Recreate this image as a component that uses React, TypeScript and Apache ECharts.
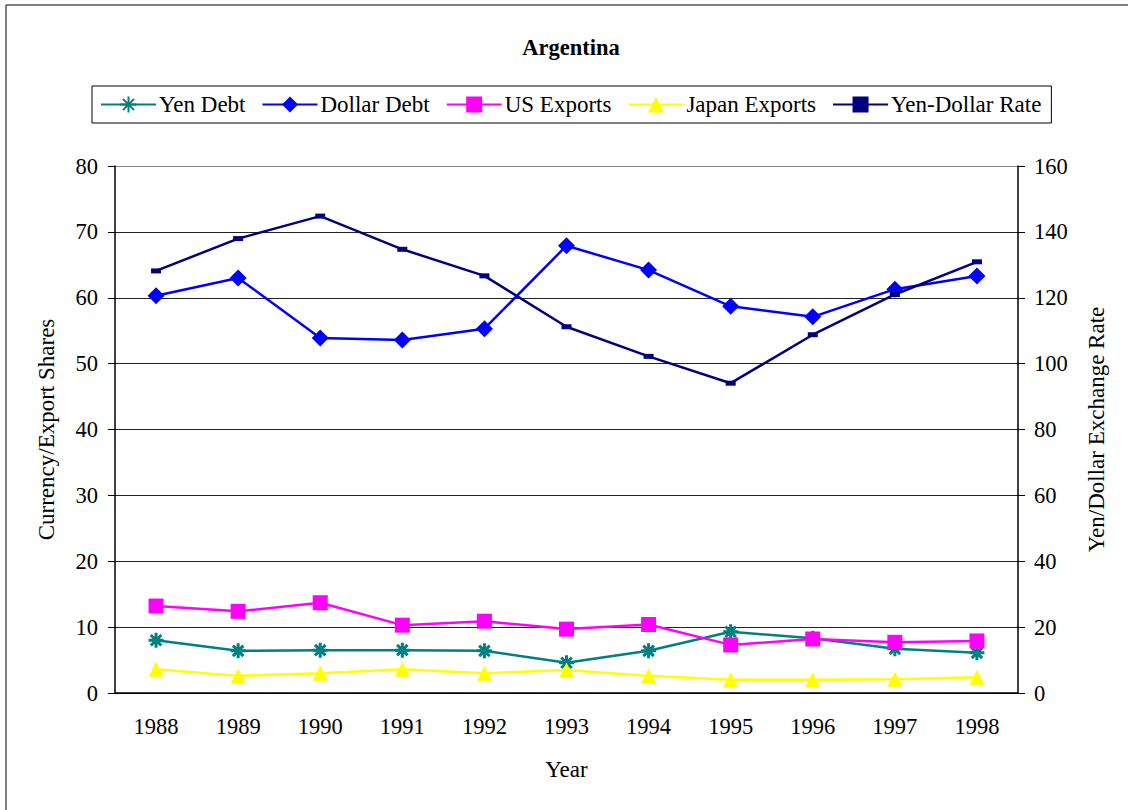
import React, { useEffect, useRef } from "react";
import * as echarts from "echarts";

const years = ["1988", "1989", "1990", "1991", "1992", "1993", "1994", "1995", "1996", "1997", "1998"];
const yenDebt = [8.0, 6.4, 6.5, 6.5, 6.4, 4.6, 6.4, 9.3, 8.3, 6.7, 6.1];
const dollarDebt = [60.3, 63.0, 53.9, 53.6, 55.3, 67.9, 64.2, 58.7, 57.1, 61.3, 63.3];
const usExports = [13.2, 12.4, 13.7, 10.3, 10.9, 9.7, 10.4, 7.3, 8.2, 7.7, 7.9];
const japanExports = [3.6, 2.6, 3.0, 3.6, 3.0, 3.5, 2.6, 2.0, 2.0, 2.1, 2.4];
const yenDollarRate = [128.15, 137.96, 144.79, 134.71, 126.65, 111.2, 102.21, 94.06, 108.78, 120.99, 130.91];

const FONT = "'Liberation Serif', 'Times New Roman', serif";
const asterisk = "path://M0,5L10,5M5,0L5,10M1.5,1.5L8.5,8.5M8.5,1.5L1.5,8.5";

export default function App() {
  const ref = useRef<HTMLDivElement>(null);
  useEffect(() => {
    document.body.style.margin = "0";
    const chart = echarts.init(ref.current!, null, { renderer: "svg" });
    const textStyle = { fontFamily: FONT, fontSize: 22.5, color: "#000" };
    const nameStyle = { fontFamily: FONT, fontSize: 23, color: "#000" };
    chart.setOption({
      animation: false,
      backgroundColor: "#fff",
      textStyle: { fontFamily: FONT },
      title: {
        text: "Argentina",
        left: 566,
        textAlign: "center",
        top: 31,
        textStyle: { fontFamily: FONT, fontSize: 22.5, fontWeight: "bold", color: "#000" },
      },
      legend: {
        top: 86,
        left: 92,
        itemWidth: 55,
        itemHeight: 20,
        itemGap: 16,
        padding: [7, 10, 7, 8],
        borderColor: "#000",
        borderWidth: 1,
        textStyle: { ...nameStyle, padding: [0, 0, 0, -2] },
        data: ["Yen Debt", "Dollar Debt", "US Exports", "Japan Exports", "Yen-Dollar Rate"],
      },
      graphic: [
        {
          type: "rect",
          shape: { x: 6, y: 5, width: 1130, height: 830 },
          style: { fill: "none", stroke: "#000", lineWidth: 1 },
          silent: true,
        },
      ],
      grid: { left: 115, right: 110, top: 166, bottom: 117 },
      xAxis: {
        type: "category",
        data: years,
        boundaryGap: true,
        name: "Year",
        nameLocation: "middle",
        nameGap: 65,
        nameTextStyle: nameStyle,
        axisLine: { lineStyle: { color: "#000", width: 1.5 } },
        axisTick: { length: 7, lineStyle: { color: "#000" } },
        axisLabel: { ...textStyle, margin: 22 },
      },
      yAxis: [
        {
          type: "value",
          min: 0,
          max: 80,
          interval: 10,
          name: "Currency/Export Shares",
          nameLocation: "middle",
          nameGap: 57,
          nameTextStyle: nameStyle,
          axisLine: { show: true, lineStyle: { color: "#000", width: 1.5 } },
          axisTick: { show: true, length: 7, lineStyle: { color: "#000" } },
          axisLabel: { ...textStyle, margin: 17 },
          splitLine: {
            lineStyle: {
              color: ["#000", "#222", "#222", "#222", "#222", "#222", "#222", "#222", "#888"],
              width: 1,
            },
          },
        },
        {
          type: "value",
          min: 0,
          max: 160,
          interval: 20,
          name: "Yen/Dollar Exchange Rate",
          nameLocation: "middle",
          nameGap: 67,
          nameTextStyle: nameStyle,
          axisLine: { show: true, lineStyle: { color: "#000", width: 1.5 } },
          axisTick: { show: true, length: 7, lineStyle: { color: "#000" } },
          axisLabel: { ...textStyle, margin: 16 },
          splitLine: { show: false },
        },
      ],
      series: [
        {
          name: "Yen Debt",
          type: "line",
          data: yenDebt,
          yAxisIndex: 0,
          symbol: asterisk,
          symbolSize: 15,
          lineStyle: { color: "#008080", width: 2.5 },
          itemStyle: { color: "#008080", borderColor: "#008080", borderWidth: 3 },
          z: 2,
        },
        {
          name: "Dollar Debt",
          type: "line",
          data: dollarDebt,
          yAxisIndex: 0,
          symbol: "diamond",
          symbolSize: 17,
          lineStyle: { color: "#0000FF", width: 2.5 },
          itemStyle: { color: "#0000FF", borderWidth: 0 },
        },
        {
          name: "US Exports",
          type: "line",
          data: usExports,
          yAxisIndex: 0,
          symbol: "rect",
          symbolSize: 15,
          lineStyle: { color: "#FF00FF", width: 2.5 },
          itemStyle: { color: "#FF00FF", borderWidth: 0 },
        },
        {
          name: "Japan Exports",
          type: "line",
          data: japanExports,
          yAxisIndex: 0,
          symbol: "triangle",
          symbolSize: 15,
          lineStyle: { color: "#FFFF00", width: 2.5 },
          itemStyle: { color: "#FFFF00", borderWidth: 0 },
        },
        {
          name: "Yen-Dollar Rate",
          type: "line",
          data: yenDollarRate,
          yAxisIndex: 1,
          symbol: "rect",
          symbolSize: [10, 5],
          lineStyle: { color: "#000080", width: 2.5 },
          itemStyle: { color: "#000080", borderWidth: 0 },
        },
      ],
    });
    return () => chart.dispose();
  }, []);
  return <div ref={ref} style={{ width: 1128, height: 810 }} />;
}
